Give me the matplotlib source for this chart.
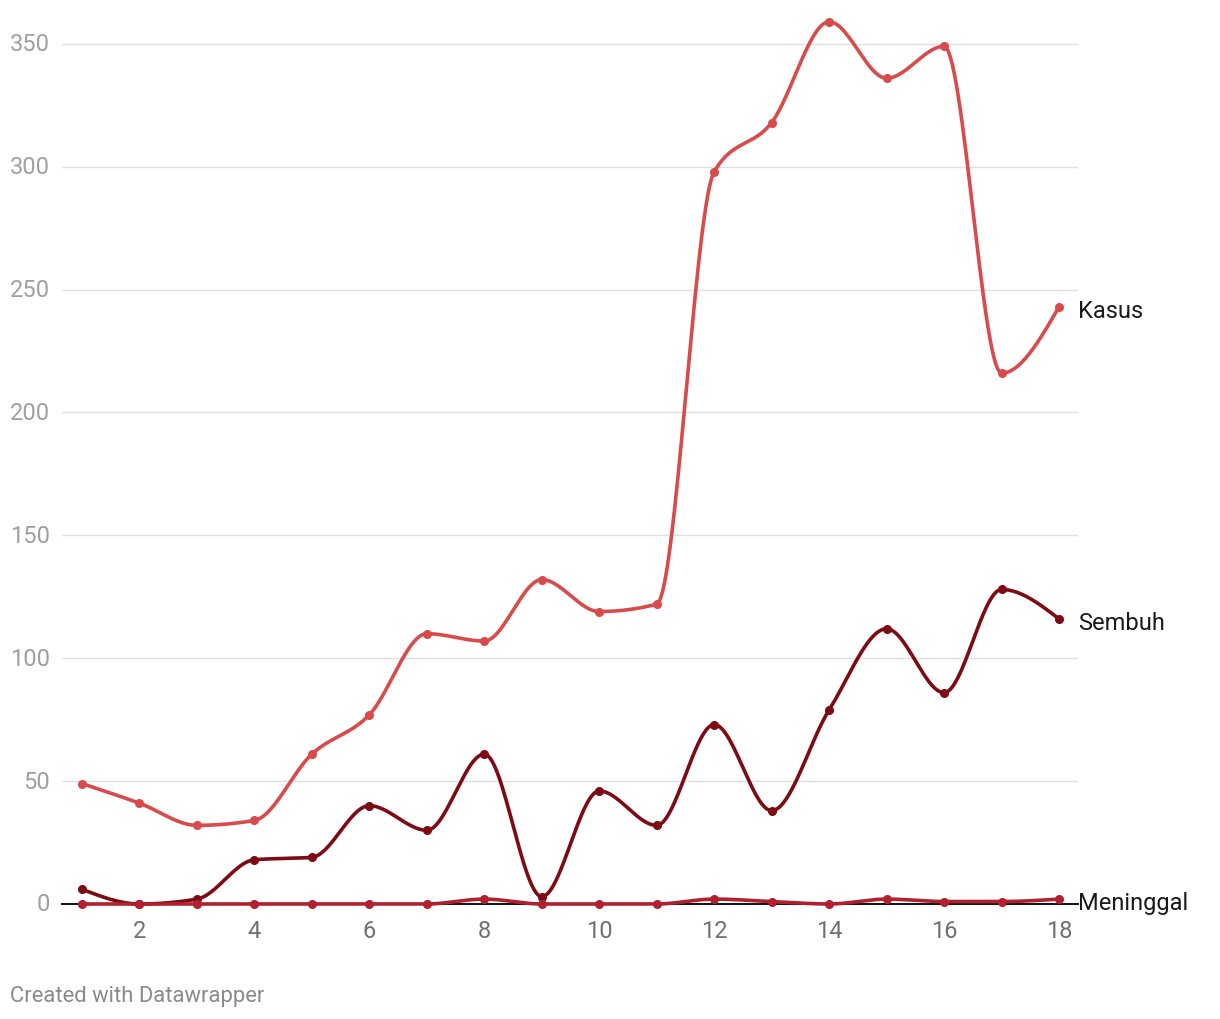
import numpy as np
import matplotlib.pyplot as plt

plt.rcParams['font.family'] = ['Roboto', 'DejaVu Sans']

days = list(range(1, 19))
kasus = [49, 41, 32, 34, 61, 77, 110, 107, 132, 119, 122, 298, 318, 359, 336, 349, 216, 243]
sembuh = [6, 0, 2, 18, 19, 40, 30, 61, 3, 46, 32, 73, 38, 79, 112, 86, 128, 116]
meninggal = [0, 0, 0, 0, 0, 0, 0, 2, 0, 0, 0, 2, 1, 0, 2, 1, 1, 2]

y_ticks = [0, 50, 100, 150, 200, 250, 300, 350]
x_ticks = [2, 4, 6, 8, 10, 12, 14, 16, 18]

series = [
    ('Kasus', kasus, '#d94b4b'),
    ('Sembuh', sembuh, '#7e0a14'),
    ('Meninggal', meninggal, '#b2202f'),
]


def monotone_x(x, y, n=30):
    # same idea as d3.curveMonotoneX
    x = np.asarray(x, float)
    y = np.asarray(y, float)
    h = np.diff(x)
    s = np.diff(y) / h
    m = np.zeros(len(x))
    for i in range(1, len(x) - 1):
        s0, s1 = s[i - 1], s[i]
        p = (s0 * h[i] + s1 * h[i - 1]) / (h[i - 1] + h[i])
        m[i] = (np.sign(s0) + np.sign(s1)) * min(abs(s0), abs(s1), 0.5 * abs(p))
    m[0] = (3 * s[0] - m[1]) / 2 if len(x) > 2 else s[0]
    m[-1] = (3 * s[-1] - m[-2]) / 2 if len(x) > 2 else s[-1]
    xs, ys = [], []
    for i in range(len(x) - 1):
        t = np.linspace(0, 1, n)
        h00 = 2 * t**3 - 3 * t**2 + 1
        h10 = t**3 - 2 * t**2 + t
        h01 = -2 * t**3 + 3 * t**2
        h11 = t**3 - t**2
        xs.extend(x[i] + t * h[i])
        ys.extend(h00 * y[i] + h10 * h[i] * m[i] + h01 * y[i + 1] + h11 * h[i] * m[i + 1])
    return np.array(xs), np.array(ys)


fig = plt.figure(figsize=(12.2, 10.2), dpi=100)
ax = fig.add_axes([62 / 1220, 1 - 905 / 1020, 1016 / 1220, 897 / 1020])
ax.set_xlim(0.652, 18.33)
ax.set_ylim(0, 365)

for yt in y_ticks[1:]:
    ax.axhline(yt, color='#e0e0e0', lw=1, zorder=0)
ax.axhline(0, color='#111111', lw=1.4, zorder=1, clip_on=False)

for name, vals, col in series:
    xs, ys = monotone_x(days, vals)
    ax.plot(xs, ys, color=col, lw=2.6, zorder=3, clip_on=False, solid_capstyle='round')
    ax.plot(days, vals, 'o', color=col, ms=5.5, zorder=4, clip_on=False)
    ax.annotate(name, xy=(18.33, vals[-1]), xytext=(0, -2.5), textcoords='offset points',
                ha='left', va='center', fontsize=17, color='#1a1a1a', annotation_clip=False)

for sp in ax.spines.values():
    sp.set_visible(False)
ax.set_yticks(y_ticks)
ax.set_yticklabels([str(v) for v in y_ticks])
ax.set_xticks(x_ticks)
ax.set_xticklabels([str(v) for v in x_ticks])
ax.tick_params(axis='y', length=0, pad=8.5, labelsize=17, labelcolor='#a0a0a0')
ax.tick_params(axis='x', length=0, pad=11, labelsize=17, labelcolor='#707070')
for lab in ax.get_yticklabels():
    lab.set_verticalalignment('center')

fig.text(10 / 1220, 1 - 997 / 1020, 'Created with Datawrapper', fontsize=15.8,
         color='#8a8a8a', ha='left', va='center')

plt.savefig('out.png', dpi=100)
